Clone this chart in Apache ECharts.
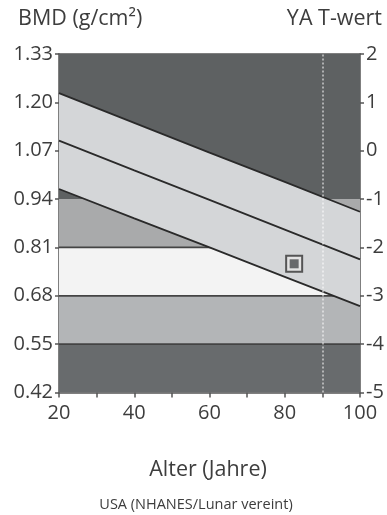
<!DOCTYPE html>
<html>
<head>
<meta charset="utf-8">
<script src="https://cdn.jsdelivr.net/npm/echarts@6/dist/echarts.min.js"></script>
<style>
  html, body { margin: 0; padding: 0; background: #fff; }
  #chart { width: 387px; height: 515px; }
</style>
</head>
<body>
<div id="chart"></div>
<script>
// Age-matched reference curves (BMD, g/cm²) at these ages
const ages = [20, 40, 60, 80, 100];
const upperCurve = [1.225, 1.145, 1.065, 0.986, 0.906];
const meanCurve  = [1.097, 1.017, 0.938, 0.858, 0.778];
const lowerCurve = [0.967, 0.888, 0.810, 0.731, 0.652];

// Axis ticks
const bmdTicks = [0.42, 0.55, 0.68, 0.81, 0.94, 1.07, 1.20, 1.33];
const tScoreTicks = [-5, -4, -3, -2, -1, 0, 1, 2];

// Horizontal zones (BMD ranges, bottom to top)
const zoneLow  = [0.42, 0.55, 0.68, 0.81, 0.94];
const zoneHigh = [0.55, 0.68, 0.81, 0.94, 1.33];
// zone edges that carry a dark rule
const ruledEdges = [0.55, 0.68, 0.81];

// Patient measurement
const patientAge = [82.5];
const patientBmd = [0.766];

// Age marked with a dotted guide
const guideAge = [90];

const zoneColors = ['#686b6d', '#b3b5b7', '#f3f3f3', '#a9aaab', '#5e6162'];
const FONT = '"Open Sans", sans-serif';
const TEXT = '#3d3d3d';
const AXIS = '#555';
const CURVE = '#2a2a2a';

const chart = echarts.init(document.getElementById('chart'), null, { renderer: 'canvas' });

const pairs = arr => ages.map((a, i) => [a, arr[i]]);

chart.setOption({
  animation: false,
  textStyle: { fontFamily: FONT },
  grid: { left: 59, top: 54, width: 301, height: 338.5, containLabel: false },
  xAxis: [{
    type: 'value', min: 20, max: 100, interval: 10,
    axisLine: { show: true, onZero: false, lineStyle: { color: AXIS, width: 1.5 } },
    axisTick: { show: true, length: 5, lineStyle: { color: AXIS, width: 1.5 } },
    axisLabel: {
      margin: 11, fontSize: 20, color: TEXT, fontFamily: FONT,
      formatter: v => (v % 20 === 0 ? String(v) : '')
    },
    splitLine: { show: false }
  }, {
    type: 'value', position: 'top', min: 20, max: 100,
    axisLine: { show: true, onZero: false, lineStyle: { color: AXIS, width: 1.5 } },
    axisTick: { show: false }, axisLabel: { show: false }, splitLine: { show: false }
  }],
  yAxis: [{
    type: 'value', min: 0.42, max: 1.33,
    axisLine: { show: true, onZero: false, lineStyle: { color: AXIS, width: 1.5 } },
    axisTick: { show: true, length: 4, customValues: bmdTicks, lineStyle: { color: AXIS, width: 1.5 } },
    axisLabel: {
      margin: 6, fontSize: 20, color: TEXT, fontFamily: FONT,
      customValues: bmdTicks, formatter: v => v.toFixed(2)
    },
    splitLine: { show: false }
  }, {
    type: 'value', position: 'right', min: -5, max: 2, interval: 1,
    axisLine: { show: true, onZero: false, lineStyle: { color: AXIS, width: 1.5 } },
    axisTick: { show: true, length: 4, lineStyle: { color: AXIS, width: 1.5 } },
    axisLabel: { margin: 6, fontSize: 20, color: TEXT, fontFamily: FONT, formatter: v => String(v) },
    splitLine: { show: false }
  }],
  graphic: [
    { type: 'text', left: 18, top: 8, style: { text: 'BMD (g/cm²)', fontSize: 21.5, fill: TEXT, fontFamily: FONT } },
    { type: 'text', right: 5, top: 8, style: { text: 'YA T-wert', fontSize: 21.5, fill: TEXT, fontFamily: FONT } },
    { type: 'text', x: 208, y: 470, style: { text: 'Alter (Jahre)', fontSize: 21.5, fill: TEXT, fontFamily: FONT, align: 'center', verticalAlign: 'middle' } },
    { type: 'text', x: 196, y: 505, style: { text: 'USA (NHANES/Lunar vereint)', fontSize: 14.5, fill: TEXT, fontFamily: FONT, align: 'center', verticalAlign: 'middle' } }
  ],
  series: [
    {
      // horizontal diagnostic zones
      type: 'custom', z: 1, silent: true,
      data: zoneLow.map((lo, i) => [lo, zoneHigh[i], i]),
      encode: { x: -1, y: [0, 1] },
      renderItem: (params, api) => {
        const lo = api.value(0), hi = api.value(1), idx = api.value(2);
        const p1 = api.coord([20, hi]);
        const p2 = api.coord([100, lo]);
        const children = [{
          type: 'rect',
          shape: { x: p1[0], y: p1[1], width: p2[0] - p1[0], height: p2[1] - p1[1] },
          style: { fill: zoneColors[idx] }
        }];
        if (ruledEdges.some(e => Math.abs(e - lo) < 1e-9)) {
          children.push({
            type: 'line',
            shape: { x1: p1[0], y1: p2[1], x2: p2[0], y2: p2[1] },
            style: { stroke: '#444', lineWidth: 1.8 }
          });
        }
        return { type: 'group', children };
      }
    },
    {
      // reference band between the outer curves
      type: 'custom', z: 2, silent: true,
      data: [[ages[0], upperCurve[0]]],
      renderItem: (params, api) => {
        const top = ages.map((a, i) => api.coord([a, upperCurve[i]]));
        const bottom = ages.map((a, i) => api.coord([a, lowerCurve[i]])).reverse();
        return {
          type: 'polygon',
          shape: { points: top.concat(bottom) },
          style: { fill: '#d4d6d8' }
        };
      }
    },
    {
      type: 'line', z: 4, silent: true, symbol: 'none',
      data: pairs(upperCurve), lineStyle: { color: CURVE, width: 1.8 }
    },
    {
      type: 'line', z: 4, silent: true, symbol: 'none',
      data: pairs(meanCurve), lineStyle: { color: CURVE, width: 1.8 }
    },
    {
      type: 'line', z: 4, silent: true, symbol: 'none',
      data: pairs(lowerCurve), lineStyle: { color: CURVE, width: 1.8 },
      markLine: {
        silent: true, symbol: 'none', label: { show: false },
        lineStyle: { color: 'rgba(255,255,255,0.5)', width: 2, type: [2, 2] },
        data: guideAge.map(a => ({ xAxis: a }))
      }
    },
    {
      type: 'scatter', z: 6, silent: true, symbol: 'rect', symbolSize: 16,
      data: patientAge.map((a, i) => [a, patientBmd[i]]),
      itemStyle: { color: '#e6e6e6', borderColor: '#333', borderWidth: 2 }
    },
    {
      type: 'scatter', z: 7, silent: true, symbol: 'rect', symbolSize: 9,
      data: patientAge.map((a, i) => [a, patientBmd[i]]),
      itemStyle: { color: '#474a4c' }
    }
  ]
});
</script>
</body>
</html>
